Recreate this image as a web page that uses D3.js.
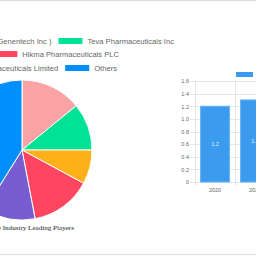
<!DOCTYPE html>
<html>
<head>
<meta charset="utf-8">
<script src="https://cdn.jsdelivr.net/npm/d3@7"></script>
<style>
  html, body { margin: 0; padding: 0; background: #fff; overflow: hidden; }
  svg { display: block; }
</style>
</head>
<body>
<div id="chart"></div>
<script>
// pie: market share of leading players (%)
const players = ["Roche Holding AG ( Genentech Inc )", "Teva Pharmaceuticals Inc", "Mylan N.V.",
                 "Hikma Pharmaceuticals PLC", "Glenmark Pharmaceuticals Limited", "Others"];
const shares = [14.1, 10.9, 7.9, 14.1, 11.9, 41.1];
const pieColors = ["#f9a3a4", "#00e396", "#feb019", "#ff4560", "#775dd0", "#008ffb"];

// bar: market size by year
const years = ["2020", "2021"];
const sizes = [1.2, 1.3];
const yTicks = [0, 0.2, 0.4, 0.6, 0.8, 1.0, 1.2, 1.4, 1.6];

const W = 256, H = 256;
const svg = d3.select("#chart").append("svg")
    .attr("width", W)
    .attr("height", H);

// page frame lines
svg.append("line").attr("x1", 0).attr("x2", W).attr("y1", 0.5).attr("y2", 0.5)
    .attr("stroke", "#dcdcdc");
svg.append("line").attr("x1", 0).attr("x2", W).attr("y1", 254.5).attr("y2", 254.5)
    .attr("stroke", "#dcdcdc");

// ---- pie ----
const cx = 22, cy = 150, r = 70;
const pie = d3.pie().sort(null).value(d => d);
const arc = d3.arc().innerRadius(0).outerRadius(r);

svg.append("g")
    .attr("transform", `translate(${cx},${cy})`)
    .selectAll("path")
    .data(pie(shares))
    .join("path")
    .attr("d", arc)
    .attr("fill", (d, i) => pieColors[i])
    .attr("stroke", "#fff")
    .attr("stroke-width", 1);

// legend, three rows, laid out right to left
const legendRows = [[0, 1], [2, 3], [4, 5]];
const rowEnds = [174, 119, 117];
const rowY = [41, 54, 68];
const legend = svg.append("g")
    .style("font-family", "'Liberation Sans', Arial, sans-serif")
    .style("font-size", "7.6px")
    .attr("fill", "#666");

legendRows.forEach((row, ri) => {
    let x = rowEnds[ri];
    row.slice().reverse().forEach(i => {
        const t = legend.append("text")
            .attr("y", rowY[ri])
            .attr("dy", "0.35em")
            .text(players[i]);
        const w = t.node().getComputedTextLength();
        x -= w;
        t.attr("x", x);
        x -= 5 + 24;
        legend.append("rect")
            .attr("x", x).attr("y", rowY[ri] - 3)
            .attr("width", 24).attr("height", 6)
            .attr("fill", pieColors[i]);
        x -= 7;
    });
});

svg.append("text")
    .attr("x", 74).attr("y", 230)
    .attr("text-anchor", "end")
    .style("font-family", "'Liberation Serif', 'Times New Roman', serif")
    .style("font-size", "7.1px")
    .attr("fill", "#222")
    .text("Hydroxyurea Market Share Industry Leading Players");

// ---- bar chart ----
const x = d3.scaleBand().domain(years).range([195, 275]);
const y = d3.scaleLinear().domain([0, 1.6]).range([182, 81]);

const grid = svg.append("g").attr("stroke", "#e6e6e6").attr("stroke-width", 1);
grid.selectAll(".h").data(yTicks).join("line")
    .attr("x1", 190).attr("x2", W)
    .attr("y1", d => Math.round(y(d)) + 0.5).attr("y2", d => Math.round(y(d)) + 0.5);
grid.selectAll(".v").data([195, x(years[1])]).join("line")
    .attr("x1", d => d + 0.5).attr("x2", d => d + 0.5)
    .attr("y1", 81).attr("y2", 186);

const yAxis = svg.append("g")
    .attr("transform", "translate(190,0)")
    .call(d3.axisLeft(y).tickValues(yTicks).tickSize(0).tickPadding(1)
        .tickFormat(d => d === 0 ? "0" : d3.format(".1f")(d)));
yAxis.select(".domain").remove();
yAxis.selectAll("text")
    .attr("fill", "#666")
    .style("font-family", "'Liberation Sans', Arial, sans-serif")
    .style("font-size", "5.5px");

const xAxis = svg.append("g")
    .attr("transform", "translate(0,186)")
    .call(d3.axisBottom(x).tickSize(0).tickPadding(2));
xAxis.select(".domain").remove();
xAxis.selectAll("text")
    .attr("fill", "#666")
    .style("font-family", "'Liberation Sans', Arial, sans-serif")
    .style("font-size", "5.5px");

const bw = x.bandwidth() * 0.72;
const bars = svg.append("g");
bars.selectAll("rect").data(years).join("rect")
    .attr("x", d => x(d) + (x.bandwidth() - bw) / 2)
    .attr("y", (d, i) => y(sizes[i]))
    .attr("width", bw)
    .attr("height", (d, i) => y(0) - y(sizes[i]))
    .attr("fill", "#3a9bef")
    .attr("stroke", "#63b1f5")
    .attr("stroke-width", 1);
bars.selectAll("text").data(years).join("text")
    .attr("x", d => x(d) + x.bandwidth() / 2)
    .attr("y", (d, i) => (y(sizes[i]) + y(0)) / 2)
    .attr("dy", "0.35em")
    .attr("text-anchor", "middle")
    .attr("fill", "#e8f3fd")
    .style("font-family", "'Liberation Sans', Arial, sans-serif")
    .style("font-size", "5.5px")
    .text((d, i) => sizes[i]);

// bar legend swatch
svg.append("rect")
    .attr("x", 236).attr("y", 72)
    .attr("width", 17).attr("height", 5)
    .attr("fill", "#3a9bef");
svg.append("text")
    .attr("x", 257).attr("y", 74.5)
    .attr("dy", "0.35em")
    .attr("fill", "#666")
    .style("font-family", "'Liberation Sans', Arial, sans-serif")
    .style("font-size", "5.5px")
    .text("Market Size");
</script>
</body>
</html>
